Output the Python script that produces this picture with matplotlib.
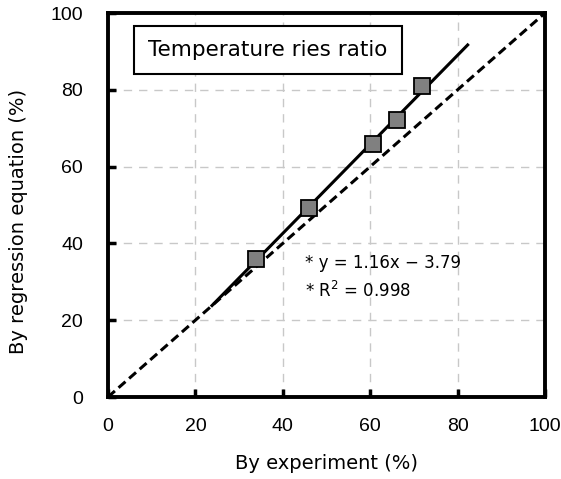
import matplotlib
matplotlib.use("Agg")
import matplotlib.pyplot as plt
import numpy as np

# Data
exp_vals = [33.9, 46.0, 60.7, 66.2, 71.9]
reg_vals = [36.0, 49.2, 66.0, 72.1, 81.0]
slope, intercept = 1.16, -3.79
fit_range = [23.8, 82.3]
diag_range = [0, 100]
ticks = [0, 20, 40, 60, 80, 100]

plt.rcParams['font.family'] = ['DejaVu Sans']

fig = plt.figure(figsize=(5.61, 4.79), dpi=100)
ax = fig.add_axes([108/561, 1-397/479, (545-108)/561, (397-13)/479])

ax.set_xlim(0, 100)
ax.set_ylim(0, 100)

ax.grid(True, linestyle=(0, (6, 5)), color='#c8c8c8', linewidth=1)
ax.set_axisbelow(True)

ax.plot(diag_range, diag_range, color='black', linestyle=(0, (3, 1.6)), linewidth=2.2, zorder=3)
fx = np.array(fit_range)
ax.plot(fx, slope*fx + intercept, color='black', linewidth=2.2, zorder=3)
ax.plot(exp_vals, reg_vals, linestyle='none', marker='s', markersize=12,
        markerfacecolor='#808080', markeredgecolor='black', markeredgewidth=1.3, zorder=4)

ax.set_xticks(ticks)
ax.set_yticks(ticks)
ax.tick_params(direction='in', length=6, width=2.5, colors='black')
ax.tick_params(axis='x', pad=15)
ax.tick_params(axis='y', pad=18)
for lab in ax.get_xticklabels() + ax.get_yticklabels():
    lab.set_family(['Liberation Sans', 'DejaVu Sans'])
    lab.set_fontsize(14)
for s in ax.spines.values():
    s.set_linewidth(2.8)

ax.set_xlabel('By experiment (%)', fontsize=14, labelpad=14)
ax.set_ylabel('By regression equation (%)', fontsize=14)
ax.yaxis.set_label_coords(-0.183, 0.458)

fig.text(268/561, 1-50/479, 'Temperature ries ratio', fontsize=15.5, ha='center', va='center',
         bbox=dict(boxstyle='square,pad=0.65', facecolor='white', edgecolor='black', linewidth=1.5))

ax.text(45, 35, '* y = 1.16x − 3.79', fontsize=12, va='center')
ax.text(45, 27.5, '* R$^2$ = 0.998', fontsize=12, va='center')

fig.savefig('out.png', dpi=100)
